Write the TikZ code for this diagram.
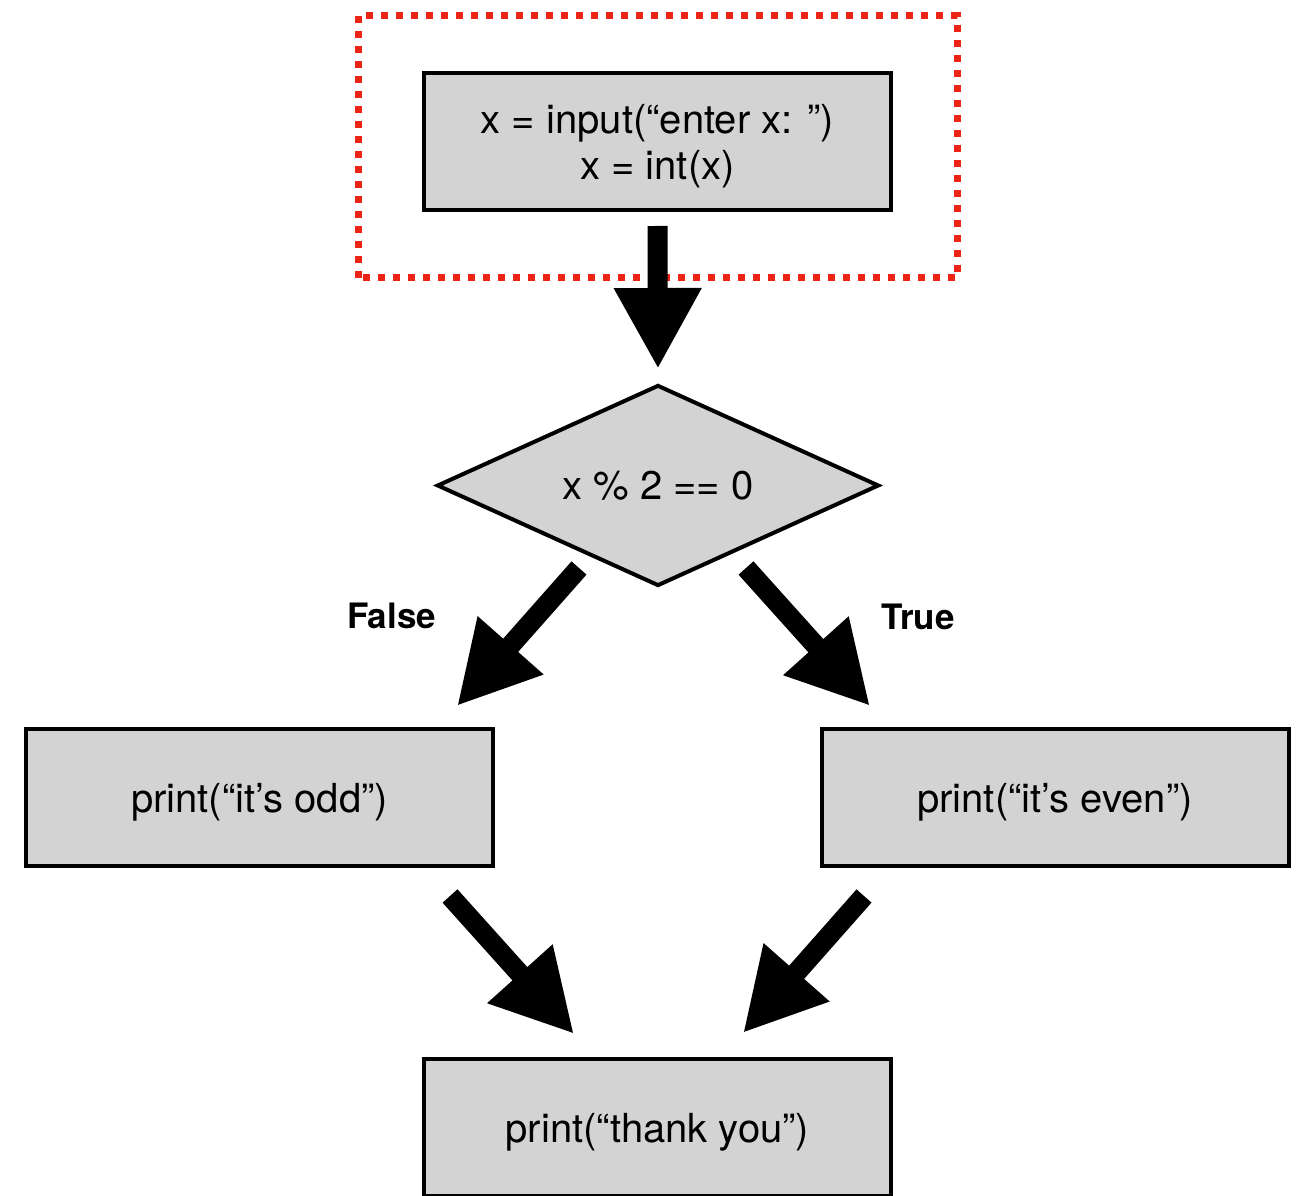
\documentclass[tikz,border=0pt]{standalone}
\usepackage{fontspec}
\setmainfont{TeX Gyre Heros}
\usetikzlibrary{arrows.meta,shapes.geometric}
\definecolor{boxgray}{RGB}{211,211,211}
\definecolor{dotred}{RGB}{236,36,22}
\tikzset{
  codebox/.style={rectangle, draw=black, line width=4pt, fill=boxgray,
    minimum width=467pt, minimum height=137pt, inner sep=0pt, align=center,
    text depth=0pt, font=\fontsize{40}{46}\selectfont},
  oneline/.style={text height=30pt},
  testbox/.style={diamond, aspect=2.2, draw=black, line width=4pt, fill=boxgray,
    minimum width=442pt, minimum height=201pt, inner sep=0pt,
    font=\fontsize{40}{46}\selectfont},
  flow/.style={line width=20pt, -{Triangle[length=81pt,width=82pt]}},
  branch/.style={anchor=base, font=\bfseries\fontsize{35}{42}\selectfont}
}
\begin{document}
\begin{tikzpicture}[x=1pt,y=1pt]
    \useasboundingbox (0,0) rectangle (1304,1195);
    % dotted frame round the input step
    \draw[dotred, line width=7pt, dash pattern=on 7pt off 8pt] (358,917) rectangle (957,1179);
    \node[codebox] (input) at (657.5,1053.5) {x = input(“enter x: ”)\\x = int(x)};
    \node[testbox] (test) at (658,709.5) {x \% 2 == 0};
    \node[codebox, oneline] (odd) at (259.5,397) {print(“it’s odd”)};
    \node[codebox, oneline] (even) at (1055,397) {print(“it’s even”)};
    \node[codebox, oneline] (thanks) at (657.5,67.5) {print(“thank you”)};
    \node[branch] (false) at (391.5,566) {False};
    \node[branch] (true) at (918,565) {True};
    % free ends of the slanted arrows
    \coordinate (fs) at (579,627);
    \coordinate (ft) at (457,489);
    \coordinate (ts) at (746,627);
    \coordinate (tt) at (870,489);
    \coordinate (os) at (450,299);
    \coordinate (ot) at (574,161);
    \coordinate (es) at (864,299);
    \coordinate (et) at (743,162);
    \draw[flow, shorten <=14pt, shorten >=14pt] (input.south) -- (test.north);
    \draw[flow] (fs) -- (ft);
    \draw[flow] (ts) -- (tt);
    \draw[flow] (os) -- (ot);
    \draw[flow] (es) -- (et);
\end{tikzpicture}
\end{document}
